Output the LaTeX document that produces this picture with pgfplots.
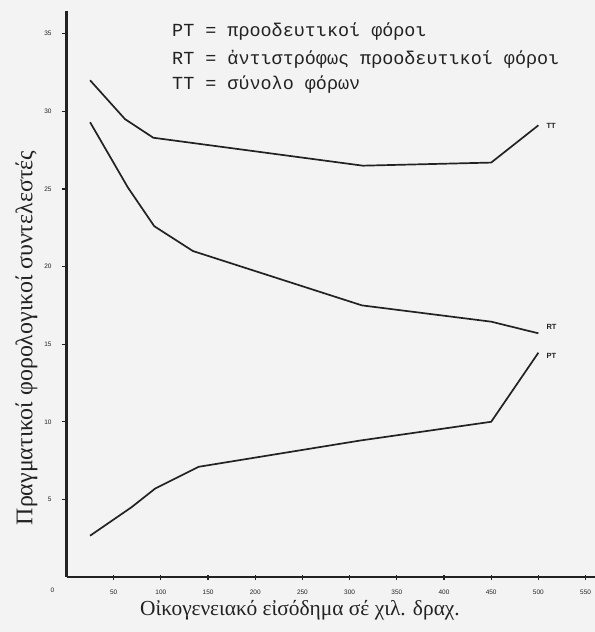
\documentclass[border=0pt]{standalone}
\usepackage{pgfplots}
\pgfplotsset{compat=1.18}
\usepackage{fontspec}
\setmainfont{Liberation Serif}
\newfontfamily\monofont{Liberation Mono}
\newfontfamily\ticksfont{Liberation Sans}
\usetikzlibrary{backgrounds}
\definecolor{ink}{HTML}{222222}
\definecolor{paper}{HTML}{F3F3F3}
\begin{document}
\begin{tikzpicture}
\begin{axis}[
  scale only axis,
  width=528.5bp, height=565.75bp,
  xmin=0, xmax=560, ymin=0, ymax=36.45,
  axis x line=bottom, axis y line=left,
  axis line style={-, line width=2bp, ink},
  xtick={50,100,...,550},
  ytick={5,10,...,35},
  tick align=center,
  major tick length=5bp,
  tick style={line width=1.2bp, ink},
  ytick style={xshift=-2.5bp},
  /pgf/number format/assume math mode=true,
  tick label style={font=\ticksfont\fontsize{6.5}{7}\selectfont, text=ink},
  xticklabel style={yshift=-7bp},
  yticklabel style={xshift=-9bp},
  extra x ticks={0},
  extra x tick style={major tick length=0pt, xticklabel style={xshift=-14bp}},
  clip=false,
]
\addplot[ink, line width=1.7bp] coordinates {
  (25,32.0) (62,29.5) (92,28.3) (314,26.5) (450,26.7) (500,29.1)
} node[pos=1, anchor=west, xshift=4bp, yshift=-1bp, font=\ticksfont\bfseries\fontsize{7.5}{8}\selectfont, text=ink] {TT};
\addplot[ink, line width=1.7bp] coordinates {
  (25,29.3) (65,25.1) (93,22.6) (134,21.0) (313,17.5) (450,16.45) (500,15.7)
} node[pos=1, anchor=west, xshift=4bp, yshift=6bp, font=\ticksfont\bfseries\fontsize{7.5}{8}\selectfont, text=ink] {RT};
\addplot[ink, line width=1.7bp] coordinates {
  (25,2.66) (69,4.5) (94,5.7) (140,7.1) (312,8.8) (450,10.0) (500,14.45)
} node[pos=1, anchor=west, xshift=4bp, yshift=-3bp, font=\ticksfont\bfseries\fontsize{7.5}{8}\selectfont, text=ink] {PT};
\end{axis}
\begin{scope}[every node/.style={anchor=west, inner sep=0pt, text=ink, font=\monofont\fontsize{18.5}{20}\selectfont}]
\node at (105.5bp,545bp) {PT = προοδευτικοί φόροι};
\node at (105.5bp,518bp) {RT = ἀντιστρόφως προοδευτικοί φόροι};
\node at (105.5bp,492bp) {TT = σύνολο φόρων};
\end{scope}
\node[rotate=90, inner sep=0pt, text=ink, font=\fontsize{24}{26}\selectfont] at (-40bp,239bp) {Πραγματικοί φορολογικοί συντελεστές};
\node[inner sep=0pt, text=ink, font=\fontsize{21.5}{23}\selectfont] at (233.5bp,-33bp) {Οἰκογενειακό εἰσόδημα σέ χιλ. δραχ.};
\pgfresetboundingbox
\useasboundingbox (-66.5bp,-55bp) rectangle (528.5bp,577bp);
\begin{scope}[on background layer]
\fill[paper] (-66.5bp,-55bp) rectangle (528.5bp,577bp);
\end{scope}
\end{tikzpicture}
\end{document}
